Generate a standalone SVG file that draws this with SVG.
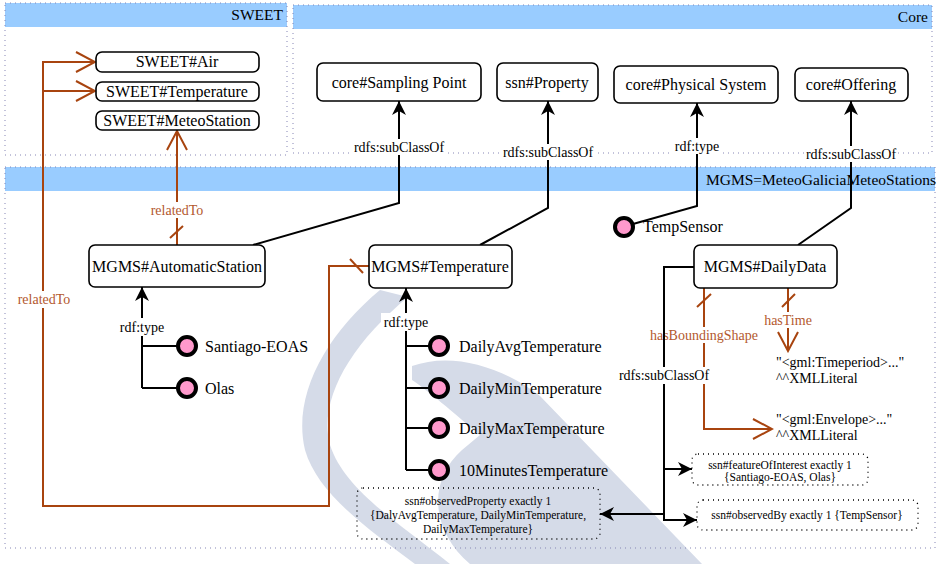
<svg xmlns="http://www.w3.org/2000/svg" width="938" height="564" viewBox="0 0 938 564" font-family="'Liberation Serif', 'Times New Roman', serif">
  <defs>
    <marker id="blk" viewBox="0 0 14 14" markerWidth="14" markerHeight="14" refX="14" refY="7" orient="auto" markerUnits="userSpaceOnUse">
      <path d="M0,0 L14,7 L0,14 L4,7 Z" fill="#000"/>
    </marker>
    <marker id="opn" viewBox="0 0 22 22" markerWidth="22" markerHeight="22" refX="20" refY="11" orient="auto" markerUnits="userSpaceOnUse">
      <path d="M1,1 L20,11 L1,21" fill="none" stroke="#a8440f" stroke-width="2"/>
    </marker>
    <style>
      text { font-family: 'Liberation Serif', 'Times New Roman', serif; fill: #000; }
      .frame { fill: none; stroke: #8585b5; stroke-width: 1; stroke-dasharray: 1 4; }
      .band { fill: #99ccff; }
      .title { font-size: 15.5px; text-anchor: end; }
      .node rect { fill: #fff; stroke: #000; stroke-width: 1.6; }
      .node text { font-size: 16px; text-anchor: middle; }
      .ind circle { fill: #ff99cc; stroke: #000; stroke-width: 4; }
      .ind text { font-size: 16px; }
      .e { fill: none; stroke: #000; stroke-width: 2; }
      .r { fill: none; stroke: #a8440f; stroke-width: 2; }
      .lbl { font-size: 14px; text-anchor: middle; }
      .rl { font-size: 14px; text-anchor: middle; fill: #b3582e; }
      .bg { fill: #fff; }
      .lit { font-size: 14px; }
      .rest rect { fill: none; stroke: #000; stroke-width: 1.3; stroke-dasharray: 1 4; }
      .rest text { font-size: 11.5px; text-anchor: middle; }
      .wm { fill: #d5dbe8; }
    </style>
  </defs>

  <rect width="938" height="564" fill="#fff"/>

  <!-- faint background emblem -->
  <g id="emblem">
    <path class="wm" d="M 380 290 L 408 297 C 350 345, 318 400, 330 445 C 345 490, 395 520, 450 564 L 415 564 C 370 530, 318 495, 305 450 C 292 395, 326 335, 380 290 Z"/>
    <path class="wm" d="M 412 366 C 450 352, 500 365, 540 396 L 702 564 L 470 564 C 430 530, 428 480, 462 450 L 480 435 C 450 410, 430 392, 412 380 Z"/>
  </g>

  <!-- namespace frames -->
  <g id="frame-sweet">
    <rect class="band" x="5" y="3" width="282" height="24"/>
    <rect class="frame" x="5" y="3" width="282" height="152"/>
    <text class="title" x="283" y="20">SWEET</text>
  </g>
  <g id="frame-core">
    <rect class="band" x="293" y="5" width="639" height="24"/>
    <rect class="frame" x="293" y="5" width="639" height="148"/>
    <text class="title" x="928" y="22">Core</text>
  </g>
  <g id="frame-mgms">
    <rect class="band" x="5" y="167" width="930" height="24"/>
    <rect class="frame" x="5" y="167" width="930" height="381"/>
    <text class="title" x="936" y="185">MGMS=MeteoGaliciaMeteoStations</text>
  </g>

  <!-- connectors -->
  <g id="connectors">
    <!-- relatedTo links -->
    <path class="r" d="M177,245 L177,131" marker-end="url(#opn)"/>
    <line class="r" x1="170" y1="238" x2="183" y2="226"/>
    <rect class="bg" x="148" y="202" width="58" height="16"/>
    <text class="rl" x="177" y="215">relatedTo</text>

    <path class="r" d="M369,266 L329,266 L329,506 L43,506 L43,62 L95,62" marker-end="url(#opn)"/>
    <path class="r" d="M43,91 L95,91" marker-end="url(#opn)"/>
    <line class="r" x1="350" y1="259" x2="363" y2="273"/>
    <rect class="bg" x="15" y="291" width="58" height="17"/>
    <text class="rl" x="44" y="304">relatedTo</text>

    <path class="r" d="M704,288 L704,429 L772,429" marker-end="url(#opn)"/>
    <line class="r" x1="697" y1="307" x2="711" y2="294"/>
    <rect class="bg" x="648" y="327" width="112" height="16"/>
    <text class="rl" x="704" y="340">hasBoundingShape</text>

    <path class="r" d="M788,288 L788,351" marker-end="url(#opn)"/>
    <line class="r" x1="782" y1="307" x2="795" y2="294"/>
    <rect class="bg" x="762" y="312" width="52" height="16"/>
    <text class="rl" x="788" y="325">hasTime</text>

    <!-- subclass / type links -->
    <path class="e" d="M253,245 L399,203 L399,101" marker-end="url(#blk)"/>
    <rect class="bg" x="352" y="139" width="94" height="16"/>
    <text class="lbl" x="399" y="152">rdfs:subClassOf</text>

    <path class="e" d="M480,245 L548,208 L548,101" marker-end="url(#blk)"/>
    <rect class="bg" x="501" y="144" width="94" height="16"/>
    <text class="lbl" x="548" y="157">rdfs:subClassOf</text>

    <path class="e" d="M633,224 L697,206 L697,103" marker-end="url(#blk)"/>
    <rect class="bg" x="672" y="138" width="50" height="16"/>
    <text class="lbl" x="697" y="151">rdf:type</text>

    <path class="e" d="M798,245 L851,208 L851,101" marker-end="url(#blk)"/>
    <rect class="bg" x="804" y="146" width="94" height="16"/>
    <text class="lbl" x="851" y="159">rdfs:subClassOf</text>

    <path class="e" d="M142,388 L142,287" marker-end="url(#blk)"/>
    <path class="e" d="M142,346 L178,346 M142,388 L178,388"/>
    <rect class="bg" x="117" y="318" width="50" height="18"/>
    <text class="lbl" x="142" y="332">rdf:type</text>

    <path class="e" d="M406,470 L406,288" marker-end="url(#blk)"/>
    <path class="e" d="M406,346 L430,346 M406,388 L430,388 M406,428 L430,428 M406,470 L430,470"/>
    <rect class="bg" x="381" y="313" width="50" height="18"/>
    <text class="lbl" x="406" y="327">rdf:type</text>

    <path class="e" d="M694,267 L664,267 L664,520 L697,520" marker-end="url(#blk)"/>
    <path class="e" d="M664,469 L692,469" marker-end="url(#blk)"/>
    <path class="e" d="M664,514 L600,514" marker-end="url(#blk)"/>
    <rect class="bg" x="617" y="367" width="94" height="17"/>
    <text class="lbl" x="664" y="380">rdfs:subClassOf</text>
  </g>

  <!-- SWEET classes -->
  <g id="sweet-air" class="node"><rect x="96" y="52" width="163" height="20" rx="6"/><text x="177" y="67">SWEET#Air</text></g>
  <g id="sweet-temperature" class="node"><rect x="96" y="82" width="163" height="19" rx="6"/><text x="177" y="97">SWEET#Temperature</text></g>
  <g id="sweet-meteostation" class="node"><rect x="96" y="111" width="163" height="19" rx="6"/><text x="177" y="126">SWEET#MeteoStation</text></g>

  <!-- Core classes -->
  <g id="core-sampling-point" class="node"><rect x="317" y="63" width="164" height="38" rx="6"/><text x="399" y="88">core#Sampling Point</text></g>
  <g id="ssn-property" class="node"><rect x="497" y="63" width="101" height="38" rx="6"/><text x="547" y="88">ssn#Property</text></g>
  <g id="core-physical-system" class="node"><rect x="614" y="66" width="164" height="37" rx="6"/><text x="696" y="90">core#Physical System</text></g>
  <g id="core-offering" class="node"><rect x="795" y="68" width="113" height="33" rx="6"/><text x="851" y="90">core#Offering</text></g>

  <!-- MGMS classes -->
  <g id="mgms-automaticstation" class="node"><rect x="89" y="245" width="176" height="42" rx="6"/><text x="177" y="272">MGMS#AutomaticStation</text></g>
  <g id="mgms-temperature" class="node"><rect x="369" y="245" width="143" height="43" rx="6"/><text x="440" y="272">MGMS#Temperature</text></g>
  <g id="mgms-dailydata" class="node"><rect x="694" y="245" width="143" height="43" rx="6"/><text x="765" y="272">MGMS#DailyData</text></g>

  <!-- individuals -->
  <g id="ind-santiago-eoas" class="ind"><circle cx="187" cy="346" r="9"/><text x="205" y="352">Santiago-EOAS</text></g>
  <g id="ind-olas" class="ind"><circle cx="187" cy="388" r="9"/><text x="205" y="394">Olas</text></g>
  <g id="ind-dailyavg" class="ind"><circle cx="439" cy="346" r="9"/><text x="459" y="352">DailyAvgTemperature</text></g>
  <g id="ind-dailymin" class="ind"><circle cx="439" cy="388" r="9"/><text x="459" y="394">DailyMinTemperature</text></g>
  <g id="ind-dailymax" class="ind"><circle cx="439" cy="428" r="9"/><text x="459" y="434">DailyMaxTemperature</text></g>
  <g id="ind-10min" class="ind"><circle cx="439" cy="470" r="9"/><text x="459" y="476">10MinutesTemperature</text></g>
  <g id="ind-tempsensor" class="ind"><circle cx="624" cy="227" r="9"/><text x="643" y="232">TempSensor</text></g>

  <!-- literal values -->
  <g id="lit-timeperiod">
    <text class="lit" x="776" y="367">"&lt;gml:Timeperiod&gt;..."</text>
    <text class="lit" x="776" y="383">^^XMLLiteral</text>
  </g>
  <g id="lit-envelope">
    <text class="lit" x="776" y="424">"&lt;gml:Envelope&gt;..."</text>
    <text class="lit" x="776" y="440">^^XMLLiteral</text>
  </g>

  <!-- restrictions -->
  <g id="restr-observedproperty" class="rest">
    <rect x="357" y="488" width="243" height="51" rx="6"/>
    <text x="478" y="505">ssn#observedProperty exactly 1</text>
    <text x="478" y="519">{DalyAvgTemperature, DailyMinTemperature,</text>
    <text x="478" y="533">DailyMaxTemperature}</text>
  </g>
  <g id="restr-featureofinterest" class="rest">
    <rect x="692" y="454" width="176" height="31" rx="6"/>
    <text x="780" y="469">ssn#featureOfInterest exactly 1</text>
    <text x="780" y="481">{Santiago-EOAS, Olas}</text>
  </g>
  <g id="restr-observedby" class="rest">
    <rect x="697" y="500" width="221" height="30" rx="6"/>
    <text x="807" y="519">ssn#observedBy exactly 1  {TempSensor}</text>
  </g>
</svg>
